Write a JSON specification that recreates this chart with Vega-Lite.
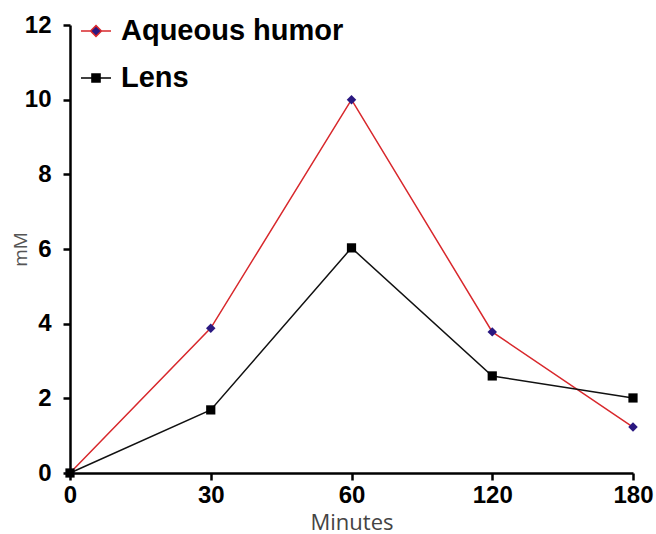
{
  "$schema": "https://vega.github.io/schema/vega-lite/v6.json",
  "width": 563,
  "height": 448,
  "autosize": {"type": "none"},
  "padding": {"left": 70, "top": 25, "right": 23, "bottom": 61},
  "background": "white",
  "config": {"view": {"stroke": null}},
  "data": {
    "values": [
      {"min": 0, "mM": 0, "series": "Aqueous humor"},
      {"min": 30, "mM": 3.88, "series": "Aqueous humor"},
      {"min": 60, "mM": 10.0, "series": "Aqueous humor"},
      {"min": 120, "mM": 3.78, "series": "Aqueous humor"},
      {"min": 180, "mM": 1.23, "series": "Aqueous humor"},
      {"min": 0, "mM": 0, "series": "Lens"},
      {"min": 30, "mM": 1.69, "series": "Lens"},
      {"min": 60, "mM": 6.03, "series": "Lens"},
      {"min": 120, "mM": 2.6, "series": "Lens"},
      {"min": 180, "mM": 2.01, "series": "Lens"}
    ]
  },
  "encoding": {
    "x": {
      "field": "min",
      "type": "ordinal",
      "scale": {"type": "point", "padding": 0, "domain": [0, 30, 60, 120, 180]},
      "title": "Minutes",
      "axis": {
        "labelAngle": 0,
        "labelFont": "Liberation Sans",
        "labelFontWeight": "bold",
        "labelFontSize": 24,
        "labelColor": "#000000",
        "labelPadding": 3,
        "domainColor": "#000000",
        "domainWidth": 2.5,
        "tickColor": "#000000",
        "tickWidth": 2.5,
        "tickSize": 7,
        "titleFont": "Open Sans",
        "titleFontWeight": "normal",
        "titleFontSize": 22,
        "titleColor": "#444444",
        "titlePadding": 5
      }
    },
    "y": {
      "field": "mM",
      "type": "quantitative",
      "scale": {"domain": [0, 12], "nice": false},
      "title": "mM",
      "axis": {
        "values": [0, 2, 4, 6, 8, 10, 12],
        "grid": false,
        "labelFont": "Liberation Sans",
        "labelFontWeight": "bold",
        "labelFontSize": 24,
        "labelColor": "#000000",
        "labelPadding": 12,
        "domainColor": "#000000",
        "domainWidth": 2.5,
        "tickColor": "#000000",
        "tickWidth": 2.5,
        "tickSize": 7,
        "titleFont": "Open Sans",
        "titleFontWeight": "normal",
        "titleFontSize": 19,
        "titleColor": "#555555",
        "titlePadding": -6
      }
    }
  },
  "layer": [
    {
      "transform": [{"filter": "datum.series === 'Aqueous humor'"}],
      "mark": {"type": "line", "strokeWidth": 1.5, "color": "#d8282c"},
      "encoding": {}
    },
    {
      "transform": [{"filter": "datum.series === 'Lens'"}],
      "mark": {"type": "line", "strokeWidth": 1.5, "color": "#111111"},
      "encoding": {}
    },
    {
      "transform": [{"filter": "datum.series === 'Aqueous humor'"}],
      "mark": {"type": "point", "filled": true, "opacity": 1, "size": 90, "shape": "diamond", "color": "#2a1880"},
      "encoding": {}
    },
    {
      "transform": [{"filter": "datum.series === 'Lens'"}],
      "mark": {"type": "point", "filled": true, "opacity": 1, "size": 85, "shape": "square", "color": "#000000"},
      "encoding": {}
    },
    {
      "mark": {"type": "point", "filled": true, "opacity": 0, "size": 10},
      "encoding": {
        "fill": {
          "field": "series",
          "type": "nominal",
          "scale": {"domain": ["Aqueous humor", "Lens"], "range": ["#2a1880", "#000000"]},
          "legend": {
            "title": null,
            "orient": "none",
            "legendX": 10,
            "legendY": -10,
            "labelFont": "Liberation Sans",
            "labelFontWeight": "bold",
            "labelFontSize": 29,
            "labelColor": "#000000",
            "labelLimit": 400,
            "labelOffset": 9,
            "symbolSize": 900,
            "symbolOpacity": 1,
            "rowPadding": 16,
            "encode": {
              "symbols": {
                "update": {
                  "shape": {"signal": "datum.value === 'Aqueous humor' ? 'M-1,0H-0.36M0.36,0H1M0,-0.36L0.36,0L0,0.36L-0.36,0Z' : 'M-1,0H1M-0.27,-0.27H0.27V0.27H-0.27Z'"},
                  "fill": {"signal": "datum.value === 'Aqueous humor' ? '#2a1880' : '#000000'"},
                  "stroke": {"signal": "datum.value === 'Aqueous humor' ? '#d8282c' : '#000000'"},
                  "strokeWidth": {"value": 1.5},
                  "opacity": {"value": 1}
                }
              }
            }
          }
        }
      }
    }
  ]
}
